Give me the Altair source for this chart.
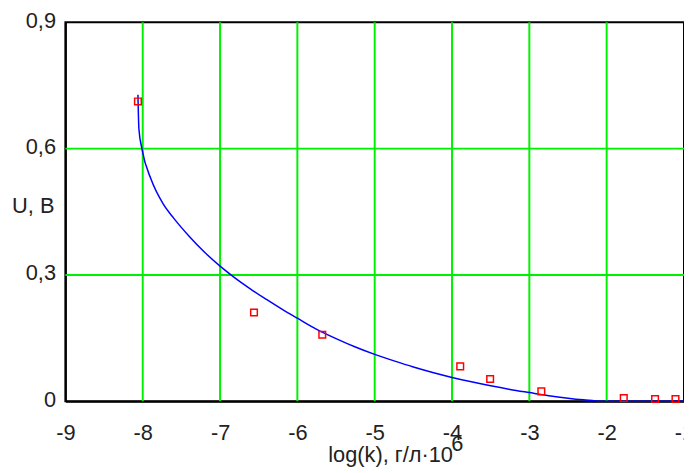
import altair as alt
import pandas as pd

# Fitted curve
curve_x = [-8.062, -8.049, -8.011, -7.892, -7.742, -7.6, -7.4, -7.2, -7.0, -6.8,
           -6.6, -6.4, -6.2, -6.0, -5.75, -5.5, -5.25, -5.0, -4.75, -4.5, -4.25,
           -4.0, -3.75, -3.5, -3.25, -3.0, -2.75, -2.5, -2.3, -2.15, -2.1, -1.0]
curve_y = [0.728, 0.646, 0.600, 0.527, 0.4705, 0.435, 0.392, 0.354, 0.321, 0.292,
           0.266, 0.242, 0.219, 0.1974, 0.171, 0.149, 0.129, 0.1115, 0.096, 0.0815,
           0.0685, 0.0568, 0.0463, 0.0368, 0.0283, 0.0208, 0.0135, 0.0075, 0.0035,
           0.001, 0.0, 0.0]

# Measured points
pts_x = [-8.062, -6.561, -5.678, -3.894, -3.507, -2.845, -1.779, -1.374, -1.110]
pts_y = [0.712, 0.211, 0.158, 0.083, 0.0531, 0.0235, 0.0078, 0.0054, 0.0054]

x_ticks = [-9, -8, -7, -6, -5, -4, -3, -2, -1]
y_ticks = [0, 0.3, 0.6, 0.9]
grid_x = [-8, -7, -6, -5, -4, -3, -2]
grid_y = [0.3, 0.6]

x_title = "log(k), г/л·10"
x_title_sup = "6"
y_title = "U, B"

FONT = "Liberation Sans, Arial, sans-serif"
TXT = "#222222"
GREEN = "#00f000"

xscale = alt.Scale(domain=[-9, -1], nice=False, zero=False)
yscale = alt.Scale(domain=[0, 0.9], nice=False, zero=False)

xaxis = alt.Axis(values=x_ticks, grid=False, ticks=False,
                 labelExpr="'' + datum.value",
                 labelFontSize=22, labelFont=FONT, labelColor=TXT,
                 labelPadding=22, labelBaseline="top", labelFlush=False,
                 domainColor="black", domainWidth=2,
                 title=x_title, titleFont=FONT, titleFontSize=22, titleFontWeight="normal",
                 titleColor=TXT, titleX=328, titleY=61, titleAlign="center",
                 titleBaseline="alphabetic")
yaxis = alt.Axis(values=y_ticks, grid=False, ticks=False,
                 labelExpr="datum.value == 0 ? '0' : replace(format(datum.value, '.1f'), '.', ',')",
                 labelFontSize=22, labelFont=FONT, labelColor=TXT,
                 labelPadding=10, labelBaseline="middle", labelFlush=False,
                 labelOffset=-2,
                 domainColor="black", domainWidth=2,
                 title=y_title, titleFont=FONT, titleFontSize=22, titleFontWeight="normal",
                 titleColor=TXT, titleAngle=0, titleX=-33, titleY=185,
                 titleAlign="center", titleBaseline="middle")

curve_df = pd.DataFrame({"x": curve_x, "y": curve_y})
pts_df = pd.DataFrame({"x": pts_x, "y": pts_y})
gx_df = pd.DataFrame({"x": grid_x})
gy_df = pd.DataFrame({"y": grid_y})

gx = alt.Chart(gx_df).mark_rule(color=GREEN, strokeWidth=2).encode(
    x=alt.X("x:Q", scale=xscale, axis=xaxis))
gy = alt.Chart(gy_df).mark_rule(color=GREEN, strokeWidth=2).encode(
    y=alt.Y("y:Q", scale=yscale, axis=yaxis))

line = alt.Chart(curve_df).mark_line(color="#0000ff", strokeWidth=1.5,
                                     interpolate="monotone").encode(
    x=alt.X("x:Q", scale=xscale, axis=xaxis),
    y=alt.Y("y:Q", scale=yscale, axis=yaxis),
    order=alt.Order("x:Q"))

pts = alt.Chart(pts_df).mark_point(shape="square", filled=False, color="#ff0000",
                                   size=45, strokeWidth=1.5, opacity=1).encode(
    x=alt.X("x:Q", scale=xscale, axis=xaxis),
    y=alt.Y("y:Q", scale=yscale, axis=yaxis))

sup = alt.Chart(pd.DataFrame({"t": [x_title_sup]})).mark_text(
    font=FONT, fontSize=22, color=TXT, align="center", baseline="alphabetic").encode(
    text="t:N", x=alt.value(396), y=alt.value(433))

chart = alt.layer(gx, gy, line, pts, sup).properties(
    width=625, height=383,
    autosize=alt.AutoSizeParams(type="none"),
    padding={"left": 58, "top": 12, "right": 0, "bottom": 70},
    background="white",
).configure_view(stroke="black", strokeWidth=2)

chart.save("out.html", embed_options={"renderer": "svg", "actions": False})
